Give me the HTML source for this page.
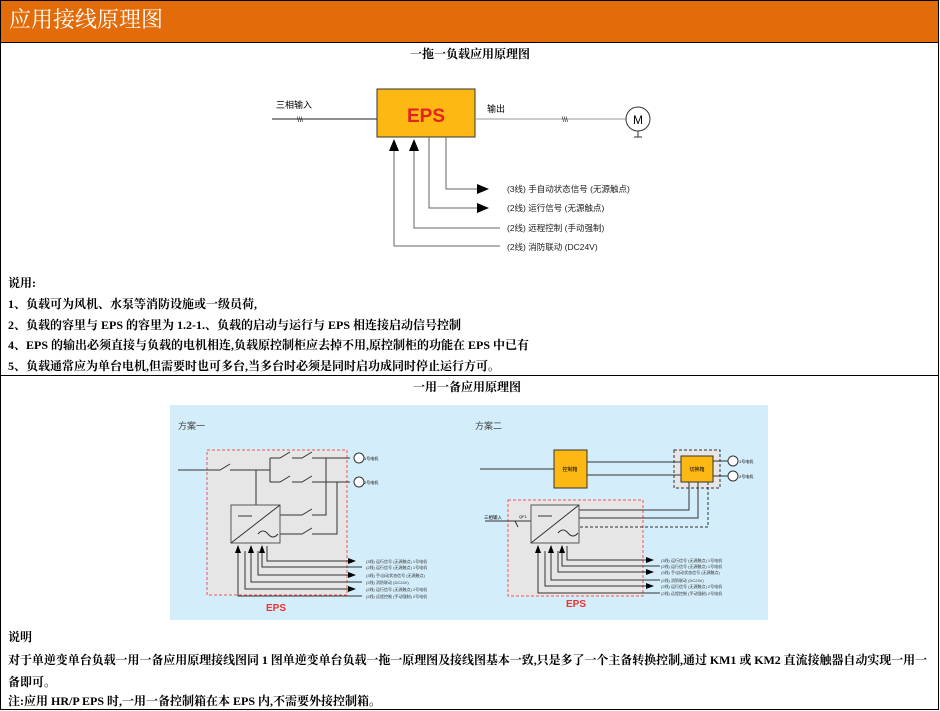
<!DOCTYPE html>
<html><head><meta charset="utf-8"><style>
*{margin:0;padding:0}
body{width:940px;height:711px;background:#fff;position:relative;overflow:hidden;font-family:"Liberation Serif","Noto Serif CJK SC","Noto Sans CJK SC",serif;}
.t{position:absolute;font-size:12px;font-weight:bold;color:#000;white-space:nowrap;line-height:14px}
</style></head><body>
<div style="position:absolute;left:0;top:0;width:937px;height:708px;border:1px solid #000"></div>
<div style="position:absolute;left:1px;top:1px;width:937px;height:41px;background:#e36c0a;border-bottom:1px solid #000"></div>
<div style="position:absolute;left:9px;top:7px;font-size:22px;color:#fff;line-height:26px;font-family:'Liberation Serif','Noto Serif CJK SC',serif">应用接线原理图</div>
<div style="position:absolute;left:1px;top:375px;width:937px;height:1px;background:#000"></div>

<div class="t" style="left:410px;top:47px">一拖一负载应用原理图</div>
<div class="t" style="left:8px;top:276px">说用:</div>
<div class="t" style="left:8px;top:297px">1、负载可为风机、水泵等消防设施或一级员荷,</div>
<div class="t" style="left:8px;top:318px">2、负载的容里与 EPS 的容里为 1.2-1.、负载的启动与运行与 EPS 相连接启动信号控制</div>
<div class="t" style="left:8px;top:338px">4、EPS 的输出必须直接与负载的电机相连,负载原控制柜应去掉不用,原控制柜的功能在 EPS 中已有</div>
<div class="t" style="left:8px;top:359px">5、负载通常应为单台电机,但需要时也可多台,当多台时必须是同时启功成同时停止运行方可。</div>
<div class="t" style="left:413px;top:380px">一用一备应用原理图</div>
<div class="t" style="left:8px;top:630px">说明</div>
<div class="t" style="left:8px;top:653px;letter-spacing:-0.05px">对于单逆变单台负载一用一备应用原理接线图同 1 图单逆变单台负载一拖一原理图及接线图基本一致,只是多了一个主备转换控制,通过 KM1 或 KM2 直流接触器自动实现一用一</div>
<div class="t" style="left:8px;top:675px">备即可。</div>
<div class="t" style="left:8px;top:694px">注:应用 HR/P EPS 时,一用一备控制箱在本 EPS 内,不需要外接控制箱。</div>

<svg style="position:absolute;left:0;top:0" width="940" height="711" font-family="Liberation Sans,Noto Sans CJK SC,sans-serif">
<defs><marker id="a" markerWidth="8" markerHeight="8" refX="7" refY="4" orient="auto" markerUnits="userSpaceOnUse"><path d="M0,1 L8,4 L0,7z" fill="#000"/></marker>
<marker id="b" markerWidth="12" markerHeight="10" refX="11" refY="5" orient="auto" markerUnits="userSpaceOnUse"><path d="M0,0 L12,5 L0,10z" fill="#000"/></marker></defs>
<line x1="272" y1="119" x2="377" y2="119" stroke="#222"/>
<text x="276" y="108" font-size="9">三相输入</text>
<text x="297" y="122" font-size="7">\\\</text>
<rect x="377" y="89" width="98" height="48" fill="#fdb813" stroke="#333"/>
<text x="426" y="122" font-size="19" font-weight="bold" fill="#e52222" text-anchor="middle">EPS</text>
<line x1="475" y1="119" x2="626" y2="119" stroke="#999"/>
<text x="487" y="112" font-size="9">输出</text>
<text x="562" y="122" font-size="7">\\\</text>
<circle cx="638" cy="119" r="12" fill="#fff" stroke="#333"/>
<text x="638" y="124" font-size="12" text-anchor="middle">M</text>
<line x1="638" y1="131" x2="638" y2="137" stroke="#333"/><line x1="634" y1="137" x2="642" y2="137" stroke="#333"/>
<g stroke="#666" fill="none">
<path d="M446,137 V189 H488" marker-end="url(#b)"/>
<path d="M429,137 V208 H488" marker-end="url(#b)"/>
<path d="M500,228 H414 V140" marker-end="url(#b)"/>
<path d="M500,246 H394 V140" marker-end="url(#b)"/>
</g>
<g font-size="8.5" fill="#222">
<text x="507" y="192">(3线) 手自动状态信号 (无源触点)</text>
<text x="507" y="211">(2线) 运行信号 (无源触点)</text>
<text x="507" y="231">(2线) 远程控制 (手动强制)</text>
<text x="507" y="250">(2线) 消防联动 (DC24V)</text>
</g>
<rect x="170" y="405" width="598" height="215" fill="#d4edfa"/>
<text x="178" y="429" font-size="9" fill="#444">方案一</text>
<rect x="207" y="450" width="140" height="145" fill="#e6e6e6" stroke="#e55" stroke-dasharray="3,2"/>
<text x="276" y="611" font-size="10" font-weight="bold" fill="#e33" text-anchor="middle">EPS</text>
<g stroke="#333" fill="none" stroke-width="1">
<path d="M178,470 H220 L230,464 M230,470 H270 V458 M270,470 V482"/>
<path d="M256,470 V505"/>
<path d="M270,458 H280 L290,452 M292,458 H302 L312,452 M312,458 H350"/>
<path d="M270,482 H280 L290,476 M292,482 H302 L312,476 M312,482 H350"/>
<path d="M280,515 H302 L312,509 M326,458 V515 H312"/>
<path d="M280,534 H302 L312,528 M337,482 V534 H312"/>
<rect x="231" y="505" width="49" height="38" fill="#e6e6e6" stroke="#555"/>
<path d="M231,543 L280,505 M238,516 H252 M258,534 q5,-6 10,0 t10,0"/>
</g>
<circle cx="359" cy="458" r="5" fill="#fff" stroke="#333"/><circle cx="359" cy="482" r="5" fill="#fff" stroke="#333"/>
<text x="364" y="460" font-size="4">1号电机</text><text x="364" y="484" font-size="4">2号电机</text>
<g stroke="#333" fill="none">
<path d="M267,546 V561 H355" marker-end="url(#a)"/>
<path d="M362,567 H262 V546" marker-end="url(#a)"/>
<path d="M258,551 V575 H355" marker-end="url(#a)"/>
<path d="M362,582 H251 V546" marker-end="url(#a)"/>
<path d="M245,551 V589 H355" marker-end="url(#a)"/>
<path d="M362,596 H238 V546" marker-end="url(#a)"/>
</g>
<g font-size="4" fill="#333"><text x="366" y="563">(3线) 运行信号 (无源触点) 1号电机</text><text x="366" y="569">(2线) 运行信号 (无源触点) 1号电机</text><text x="366" y="577">(3线) 手/自动状态信号 (无源触点)</text><text x="366" y="584">(2线) 消防联动 (DC24V)</text><text x="366" y="591">(2线) 运行信号 (无源触点) 2号电机</text><text x="366" y="598">(2线) 远程控制 (手动强制) 2号电机</text></g>

<text x="475" y="429" font-size="9" fill="#444">方案二</text>
<rect x="508" y="500" width="135" height="96" fill="#e6e6e6" stroke="#e55" stroke-dasharray="3,2"/>
<text x="576" y="607" font-size="10" font-weight="bold" fill="#e33" text-anchor="middle">EPS</text>
<rect x="674" y="450" width="46" height="38" fill="#e6e6e6" stroke="#333" stroke-dasharray="3,2"/>
<g stroke="#333" fill="none">
<path d="M480,469 H554 M587,462 H681 M587,475 H681 M713,461 H728 M713,476 H728"/>
<path d="M689,482 V510 H579 M698,482 V518 H579" />
<path d="M708,482 V527 H579" stroke-dasharray="3,2"/>
<path d="M485,521 H515 L518,527 M515,521 H531"/>
</g>
<rect x="554" y="450" width="33" height="38" fill="#fdb813" stroke="#333"/>
<text x="570" y="471" font-size="5" text-anchor="middle">控制箱</text>
<rect x="681" y="456" width="32" height="26" fill="#fdb813" stroke="#333"/>
<text x="697" y="471" font-size="5" text-anchor="middle">切换箱</text>
<circle cx="733" cy="461" r="5" fill="#fff" stroke="#333"/><circle cx="733" cy="476" r="5" fill="#fff" stroke="#333"/>
<text x="739" y="463" font-size="4">1号电机</text><text x="739" y="478" font-size="4">2号电机</text>
<text x="484" y="519" font-size="4.5">三相输入</text><text x="519" y="518" font-size="4">QF1</text>
<rect x="531" y="505" width="48" height="38" fill="#e6e6e6" stroke="#555"/>
<path d="M531,543 L579,505 M538,516 H552 M558,533 q5,-6 10,0 t10,0" stroke="#333" fill="none"/>
<g stroke="#333" fill="none">
<path d="M567,546 V560 H653" marker-end="url(#a)"/>
<path d="M660,566 H562 V546" marker-end="url(#a)"/>
<path d="M558,551 V572 H653" marker-end="url(#a)"/>
<path d="M660,580 H551 V546" marker-end="url(#a)"/>
<path d="M545,551 V586 H653" marker-end="url(#a)"/>
<path d="M660,593 H538 V546" marker-end="url(#a)"/>
</g>
<g font-size="4" fill="#333"><text x="661" y="562">(3线) 运行信号 (无源触点) 1号电机</text><text x="661" y="568">(2线) 运行信号 (无源触点) 1号电机</text><text x="661" y="574">(3线) 手/自动状态信号 (无源触点)</text><text x="661" y="582">(2线) 消防联动 (DC24V)</text><text x="661" y="588">(2线) 运行信号 (无源触点) 2号电机</text><text x="661" y="595">(2线) 远程控制 (手动强制) 2号电机</text></g>
</svg>
</body></html>
